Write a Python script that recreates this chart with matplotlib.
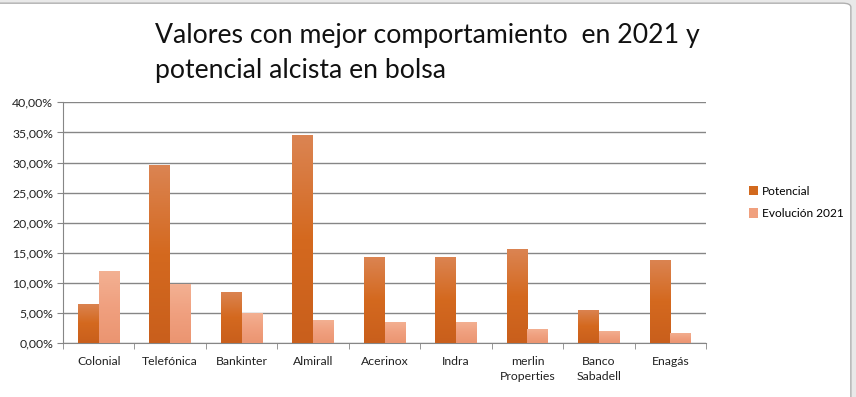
import numpy as np
import matplotlib.pyplot as plt
from matplotlib.colors import LinearSegmentedColormap
from matplotlib.patches import FancyBboxPatch
from matplotlib.ticker import FuncFormatter, FixedLocator

categorias = ["Colonial", "Telefónica", "Bankinter", "Almirall", "Acerinox",
              "Indra", "merlin\nProperties", "Banco\nSabadell", "Enagás"]
potencial = [6.5, 29.6, 8.5, 34.5, 14.3, 14.3, 15.6, 5.5, 13.8]
evolucion = [12.0, 9.8, 5.0, 3.9, 3.5, 3.5, 2.4, 2.1, 1.7]
series = ["Potencial", "Evolución 2021"]
titulo = "Valores con mejor comportamiento  en 2021 y\npotencial alcista en bolsa"

plt.rcParams['font.family'] = ['Lato', 'DejaVu Sans']

fig = plt.figure(figsize=(8.56, 3.97), dpi=100)
fig.patch.set_facecolor("#e9e9e9")
# chart area box (Excel style)
fig.patches.append(FancyBboxPatch((-0.02, -0.05), 0.014 + 0.02 + 0.98, 1.042,
                                  boxstyle="round,pad=0,rounding_size=0.01",
                                  transform=fig.transFigure, facecolor="white",
                                  edgecolor="#b0b0b0", linewidth=1, zorder=-1))

ax = fig.add_axes([0.0736, 0.1353, 0.7512, 0.607])
ax.set_facecolor("none")

x = np.arange(len(categorias))
w = 0.29
cm_pot = LinearSegmentedColormap.from_list("pot", ["#c95f1c", "#d4691f", "#db8452"])
cm_evo = LinearSegmentedColormap.from_list("evo", ["#eb9571", "#f0a07f", "#f3b193"])

bars1 = ax.bar(x - w / 2, potencial, w, color="#d2691e", zorder=2)
bars2 = ax.bar(x + w / 2, evolucion, w, color="#f0a07e", zorder=2)

grad = np.linspace(0, 1, 100).reshape(-1, 1)
for bars, cmap in ((bars1, cm_pot), (bars2, cm_evo)):
    for b in bars:
        x0, y0 = b.get_x(), b.get_y()
        im = ax.imshow(grad, extent=[x0, x0 + b.get_width(), y0, y0 + b.get_height()],
                       origin="lower", aspect="auto", cmap=cmap, zorder=3)
        im.set_clip_path(b)

ax.set_xlim(-0.5, len(categorias) - 0.5)
ax.set_ylim(0, 40)
ax.set_yticks(np.arange(0, 41, 5))
ax.yaxis.set_major_formatter(FuncFormatter(lambda v, p: f"{v:.2f}%".replace(".", ",")))
ax.yaxis.grid(True, color="#868686", linewidth=1)
ax.set_axisbelow(True)

ax.set_xticks(x)
ax.set_xticklabels(categorias, fontsize=8.8, color="#222222", linespacing=1.5, va="top")
ax.xaxis.set_minor_locator(FixedLocator(np.arange(-0.5, len(categorias), 1)))
ax.tick_params(axis="x", which="major", length=0, pad=9)
ax.tick_params(axis="x", which="minor", length=4, color="#868686", direction="out")
ax.tick_params(axis="y", length=4, color="#868686", labelsize=8.8, labelcolor="#222222", pad=3)

for s in ("top", "right"):
    ax.spines[s].set_visible(False)
ax.spines["left"].set_color("#868686")
ax.spines["bottom"].set_color("#868686")

fig.text(155 / 856, 1 - 23 / 397, titulo, fontsize=19.2, va="top", ha="left",
         color="#111111", linespacing=1.5)

leg = fig.legend([bars1[0], bars2[0]], series, loc="upper left",
                 bbox_to_anchor=(738 / 856, 1 - 175 / 397), frameon=False,
                 fontsize=8.6, handlelength=0.8, handleheight=0.8,
                 handletextpad=0.3, labelspacing=0.95)

fig.savefig("out.png", dpi=100, facecolor=fig.get_facecolor())
